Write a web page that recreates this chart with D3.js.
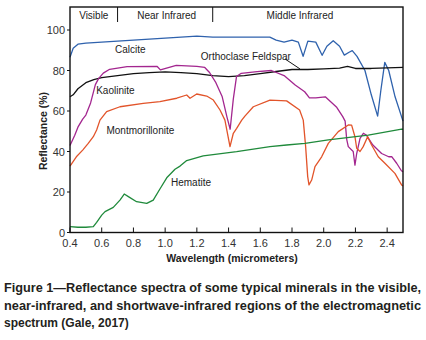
<!DOCTYPE html>
<html>
<head>
<meta charset="utf-8">
<script src="https://cdnjs.cloudflare.com/ajax/libs/d3/7.8.5/d3.min.js"></script>
<style>
  body { margin: 0; background: #fff; }
  svg { display: block; font-family: "Liberation Sans", Arial, sans-serif; }
  .tick-label { font-size: 11px; fill: #333; }
  .axis-title { font-size: 10.5px; font-weight: bold; fill: #222; }
  .band-label { font-size: 10px; fill: #222; }
  .curve-label { font-size: 10px; fill: #222; }
  .caption { font-size: 12px; font-weight: bold; fill: #231f20; }
  .curve { fill: none; stroke-width: 1.3; stroke-linejoin: round; }
</style>
</head>
<body>
<svg></svg>
<script>
const w = 426;
const h = 340;

// Data (wavelength in micrometers, reflectance in %)
const calciteWl = [0.40, 0.42, 0.45, 0.50, 0.60, 0.70, 0.80, 0.90, 1.00, 1.10, 1.20, 1.30, 1.40, 1.50, 1.60, 1.66, 1.70, 1.75, 1.80, 1.84, 1.87, 1.90, 1.95, 1.99, 2.02, 2.06, 2.10, 2.13, 2.16, 2.18, 2.21, 2.26, 2.30, 2.34, 2.36, 2.385, 2.41, 2.45, 2.50];
const calciteR = [86.5, 91, 93, 93.5, 94, 94.5, 95, 95.5, 96, 96.5, 97, 96.5, 96.5, 96.5, 96.5, 96.5, 95, 94, 95, 94, 87, 94.5, 94, 87.5, 92, 94.7, 92, 87.6, 89, 89.8, 87, 80, 68, 57.5, 70, 84, 80, 67, 55];

const feldsparWl = [0.40, 0.42, 0.45, 0.50, 0.55, 0.60, 0.70, 0.80, 0.90, 1.00, 1.10, 1.20, 1.30, 1.40, 1.50, 1.60, 1.70, 1.80, 1.90, 2.00, 2.10, 2.15, 2.20, 2.30, 2.40, 2.50];
const feldsparR = [67, 68, 71, 74, 75.5, 76.5, 77.5, 78.5, 79, 79.3, 79, 78.5, 77.5, 77, 77.5, 78.5, 79.5, 80.5, 80.5, 80.8, 81.2, 82, 81, 81, 81.3, 81.5];

const kaoliniteWl = [0.40, 0.43, 0.45, 0.48, 0.50, 0.53, 0.56, 0.58, 0.61, 0.65, 0.76, 0.95, 0.97, 1.07, 1.20, 1.25, 1.28, 1.32, 1.36, 1.39, 1.41, 1.43, 1.45, 1.48, 1.58, 1.67, 1.75, 1.82, 1.88, 1.91, 1.95, 2.01, 2.08, 2.12, 2.135, 2.145, 2.155, 2.186, 2.197, 2.208, 2.229, 2.25, 2.27, 2.31, 2.365, 2.41, 2.43, 2.46, 2.49, 2.50];
const kaoliniteR = [43, 48, 52, 56, 58, 64, 73, 76, 78.7, 80.6, 81.9, 82, 80.3, 82.5, 82, 81.5, 79, 74, 67, 57, 51, 66, 77, 78.6, 79.4, 80, 77.5, 72.8, 69.5, 66.5, 66.5, 67, 62, 57.2, 55, 46, 42.4, 40, 33.3, 39, 46.5, 49, 48, 43.2, 39, 37.4, 37.4, 34.2, 30.5, 30];

const montWl = [0.40, 0.44, 0.48, 0.515, 0.547, 0.568, 0.589, 0.631, 0.715, 0.862, 0.967, 1.073, 1.136, 1.157, 1.199, 1.262, 1.304, 1.346, 1.377, 1.409, 1.43, 1.451, 1.483, 1.503, 1.556, 1.661, 1.766, 1.848, 1.871, 1.886, 1.899, 1.907, 1.924, 1.945, 1.987, 2.029, 2.092, 2.155, 2.176, 2.197, 2.208, 2.229, 2.249, 2.277, 2.302, 2.344, 2.386, 2.449, 2.491, 2.50];
const montR = [32.8, 37.4, 40.7, 44, 47.3, 50.6, 55.5, 59.7, 62.1, 63.8, 64.6, 66.3, 67.9, 66.3, 68.4, 67.4, 65.4, 60.5, 55.5, 42.4, 49, 51.4, 55.5, 57.5, 62.1, 65.4, 65, 60.5, 55.5, 42.4, 27.6, 23.5, 25.9, 32.5, 37.4, 44, 49.8, 53.1, 53, 47.3, 41.6, 40, 42.4, 47.3, 43.2, 37.4, 34.2, 29.2, 23.5, 23];

const hematiteWl = [0.40, 0.45, 0.50, 0.547, 0.568, 0.60, 0.621, 0.673, 0.715, 0.742, 0.768, 0.82, 0.884, 0.925, 0.967, 1.01, 1.062, 1.094, 1.136, 1.24, 1.451, 1.661, 1.766, 1.882, 2.029, 2.281, 2.491, 2.50];
const hematiteR = [2.9, 2.6, 2.6, 2.9, 5, 8.6, 10.3, 12.4, 16, 19, 17.7, 15.2, 14.4, 16, 21.5, 27, 31.2, 32.8, 35.5, 37.8, 39.9, 42.4, 43.2, 44, 45.7, 48.1, 51, 51];

const xTicks = [0.4, 0.6, 0.8, 1.0, 1.2, 1.4, 1.6, 1.8, 2.0, 2.2, 2.4];
const yTicks = [0, 20, 40, 60, 80, 100];

const bandNames = ["Visible", "Near Infrared", "Middle Infrared"];
const bandEdges = [0.7, 1.3];
const bandLabelWl = [0.55, 1.01, 1.85];

const captionLines = [
  "Figure 1\u2014Reflectance spectra of some typical minerals in the visible,",
  "near-infrared, and shortwave-infrared regions of the electromagnetic",
  "spectrum (Gale, 2017)"
];

const series = [
  { name: "Calcite", wl: calciteWl, r: calciteR, color: "#2f62ad", lx: 0.78, ly: 88.6, anchor: "middle" },
  { name: "Orthoclase Feldspar", wl: feldsparWl, r: feldsparR, color: "#111111", lx: 1.225, ly: 85.3, anchor: "start" },
  { name: "Kaolinite", wl: kaoliniteWl, r: kaoliniteR, color: "#a3268f", lx: 0.565, ly: 68.2, anchor: "start" },
  { name: "Montmorillonite", wl: montWl, r: montR, color: "#e2542a", lx: 0.63, ly: 48.6, anchor: "start" },
  { name: "Hematite", wl: hematiteWl, r: hematiteR, color: "#1f8a3b", lx: 1.037, ly: 23.2, anchor: "start" }
];

// Layout
const padL = 70, padR = 403, padT = 7, padB = 232.5;

const svg = d3.select("svg")
    .attr("width", w)
    .attr("height", h);

const x = d3.scaleLinear().domain([0.4, 2.5]).range([padL, padR]);
const y = d3.scaleLinear().domain([0, 100]).range([padB, 30]);

// curves
const line = d3.line()
    .x(d => x(d[0]))
    .y(d => y(d[1]));

svg.selectAll(".curve")
    .data(series)
    .enter()
    .append("path")
    .attr("class", "curve")
    .attr("stroke", d => d.color)
    .attr("d", d => line(d3.zip(d.wl, d.r)));

// frame
svg.append("rect")
    .attr("x", padL)
    .attr("y", padT)
    .attr("width", padR - padL)
    .attr("height", padB - padT)
    .attr("fill", "none")
    .attr("stroke", "#111")
    .attr("stroke-width", 1.4);

// band dividers and labels
svg.selectAll(".band-edge")
    .data(bandEdges)
    .enter()
    .append("line")
    .attr("class", "band-edge")
    .attr("x1", d => x(d)).attr("x2", d => x(d))
    .attr("y1", padT).attr("y2", padT + 15)
    .attr("stroke", "#111")
    .attr("stroke-width", 1);

svg.selectAll(".band-label")
    .data(bandNames)
    .enter()
    .append("text")
    .attr("class", "band-label")
    .attr("x", (d, i) => x(bandLabelWl[i]))
    .attr("y", 19)
    .attr("text-anchor", "middle")
    .text(d => d);

// x axis ticks (inward) and labels
svg.selectAll(".xtick")
    .data(xTicks)
    .enter()
    .append("line")
    .attr("x1", d => x(d)).attr("x2", d => x(d))
    .attr("y1", padB).attr("y2", padB - 5)
    .attr("stroke", "#111");

svg.selectAll(".xlab")
    .data(xTicks)
    .enter()
    .append("text")
    .attr("class", "tick-label")
    .attr("x", d => x(d))
    .attr("y", 246.5)
    .attr("text-anchor", "middle")
    .text(d3.format(".1f"));

// y axis ticks and labels
svg.selectAll(".ytick")
    .data(yTicks)
    .enter()
    .append("line")
    .attr("x1", padL - 3).attr("x2", padL)
    .attr("y1", d => y(d)).attr("y2", d => y(d))
    .attr("stroke", "#111");

svg.selectAll(".ylab")
    .data(yTicks)
    .enter()
    .append("text")
    .attr("class", "tick-label")
    .attr("x", padL - 5)
    .attr("y", d => y(d) + 4)
    .attr("text-anchor", "end")
    .text(d => d);

// axis titles
svg.append("text")
    .attr("class", "axis-title")
    .attr("x", 232)
    .attr("y", 262)
    .attr("text-anchor", "middle")
    .text("Wavelength (micrometers)");

svg.append("text")
    .attr("class", "axis-title")
    .attr("transform", "translate(47,131) rotate(-90)")
    .attr("text-anchor", "middle")
    .text("Reflectance (%)");

// curve labels
svg.selectAll(".curve-label")
    .data(series)
    .enter()
    .append("text")
    .attr("class", "curve-label")
    .attr("x", d => x(d.lx))
    .attr("y", d => y(d.ly))
    .attr("text-anchor", d => d.anchor)
    .text(d => d.name);

// leader from feldspar label to its curve
svg.append("line")
    .attr("x1", x(1.756)).attr("y1", y(85.7))
    .attr("x2", x(1.85)).attr("y2", y(80.8))
    .attr("stroke", "#111")
    .attr("stroke-width", 1);

// caption
svg.selectAll(".caption")
    .data(captionLines)
    .enter()
    .append("text")
    .attr("class", "caption")
    .attr("x", 4)
    .attr("y", (d, i) => 292 + i * 17.5)
    .text(d => d)
    .each(function(d, i) {
      if (i < 2) d3.select(this).attr("textLength", 417).attr("lengthAdjust", "spacingAndGlyphs");
    });
</script>
</body>
</html>
